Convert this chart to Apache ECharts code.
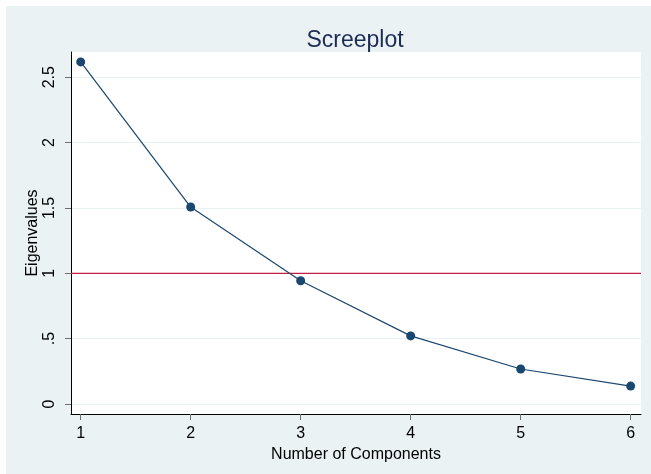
<!DOCTYPE html>
<html>
<head>
<meta charset="utf-8">
<script src="https://cdn.jsdelivr.net/npm/echarts@6/dist/echarts.min.js"></script>
<style>
  html, body { margin: 0; padding: 0; background: #ffffff; }
  #chart { width: 651px; height: 474px; }
</style>
</head>
<body>
<div id="chart"></div>
<script>
// Eigenvalue of each principal component
const components = [1, 2, 3, 4, 5, 6];
const eigenvalues = [2.617, 1.507, 0.943, 0.521, 0.268, 0.137];

// Axis tick positions and their labels
const xTicks = [1, 2, 3, 4, 5, 6];
const yTicks = [0, 0.5, 1, 1.5, 2, 2.5];
const yTickLabels = ['0', '.5', '1', '1.5', '2', '2.5'];
const gridValues = [0, 0.5, 1.5, 2, 2.5];
const referenceValue = 1;
const xRange = [0.912, 6.094];

const FONT = '"Liberation Sans", Arial, sans-serif';

const chart = echarts.init(document.getElementById('chart'), null, { renderer: 'canvas' });

chart.setOption({
  animation: false,
  textStyle: { fontFamily: FONT },
  graphic: [{
    type: 'rect',
    z: -10,
    shape: { x: 6, y: 6, width: 651, height: 474 },
    style: { fill: '#eaf2f3' },
    silent: true
  }],
  title: {
    text: 'Screeplot',
    left: 350,
    textAlign: 'center',
    top: 24,
    textStyle: { fontFamily: FONT, fontSize: 23, fontWeight: 'normal', color: '#1e2b55' }
  },
  grid: {
    left: 71, right: 10, top: 52, bottom: 60,
    show: true, backgroundColor: '#ffffff', borderWidth: 0
  },
  xAxis: {
    type: 'value',
    min: xRange[0], max: xRange[1],
    name: 'Number of Components',
    nameLocation: 'middle',
    nameGap: 27,
    nameTextStyle: { fontFamily: FONT, fontSize: 16, color: '#000000' },
    axisLine: { show: true, onZero: false, lineStyle: { color: '#000000', width: 1 } },
    axisTick: { show: true, length: 6, customValues: xTicks, lineStyle: { color: '#6e6e6e' } },
    axisLabel: {
      customValues: xTicks, margin: 12,
      fontFamily: FONT, fontSize: 16, color: '#000000',
      formatter: v => String(v)
    },
    splitLine: { show: false }
  },
  yAxis: {
    type: 'value',
    min: -0.0765, max: 2.693,
    name: 'Eigenvalues',
    nameLocation: 'middle',
    nameGap: 30,
    nameMoveOverlap: false,
    nameRotate: 90,
    nameTextStyle: { fontFamily: FONT, fontSize: 16, color: '#000000' },
    axisLine: { show: true, onZero: false, lineStyle: { color: '#000000', width: 1 } },
    axisTick: { show: true, length: 6, customValues: yTicks, lineStyle: { color: '#6e6e6e' } },
    axisLabel: {
      customValues: yTicks, rotate: 90, margin: 13,
      fontFamily: FONT, fontSize: 16, color: '#000000',
      formatter: v => {
        const i = yTicks.findIndex(t => Math.abs(t - v) < 1e-6);
        return i >= 0 ? yTickLabels[i] : '';
      }
    },
    splitLine: { show: false }
  },
  series: [
    {
      // horizontal grid lines
      type: 'line',
      data: [],
      silent: true,
      z: 0,
      markLine: {
        silent: true,
        z: 0,
        symbol: 'none',
        label: { show: false },
        lineStyle: { color: '#eaf2f3', width: 1, type: 'solid' },
        data: gridValues.map(v => ({ yAxis: v }))
      }
    },
    {
      // reference line at eigenvalue 1, across the full x range
      type: 'line',
      data: [[xRange[0], referenceValue], [xRange[1], referenceValue]],
      silent: true,
      symbol: 'none',
      z: 1,
      lineStyle: { color: '#c41e45', width: 1.2 },
      itemStyle: { color: '#c41e45' }
    },
    {
      type: 'line',
      data: components.map((c, i) => [c, eigenvalues[i]]),
      symbol: 'circle',
      symbolSize: 9,
      z: 5,
      lineStyle: { color: '#1a476f', width: 1.2 },
      itemStyle: { color: '#1a476f' }
    }
  ]
});
</script>
</body>
</html>
